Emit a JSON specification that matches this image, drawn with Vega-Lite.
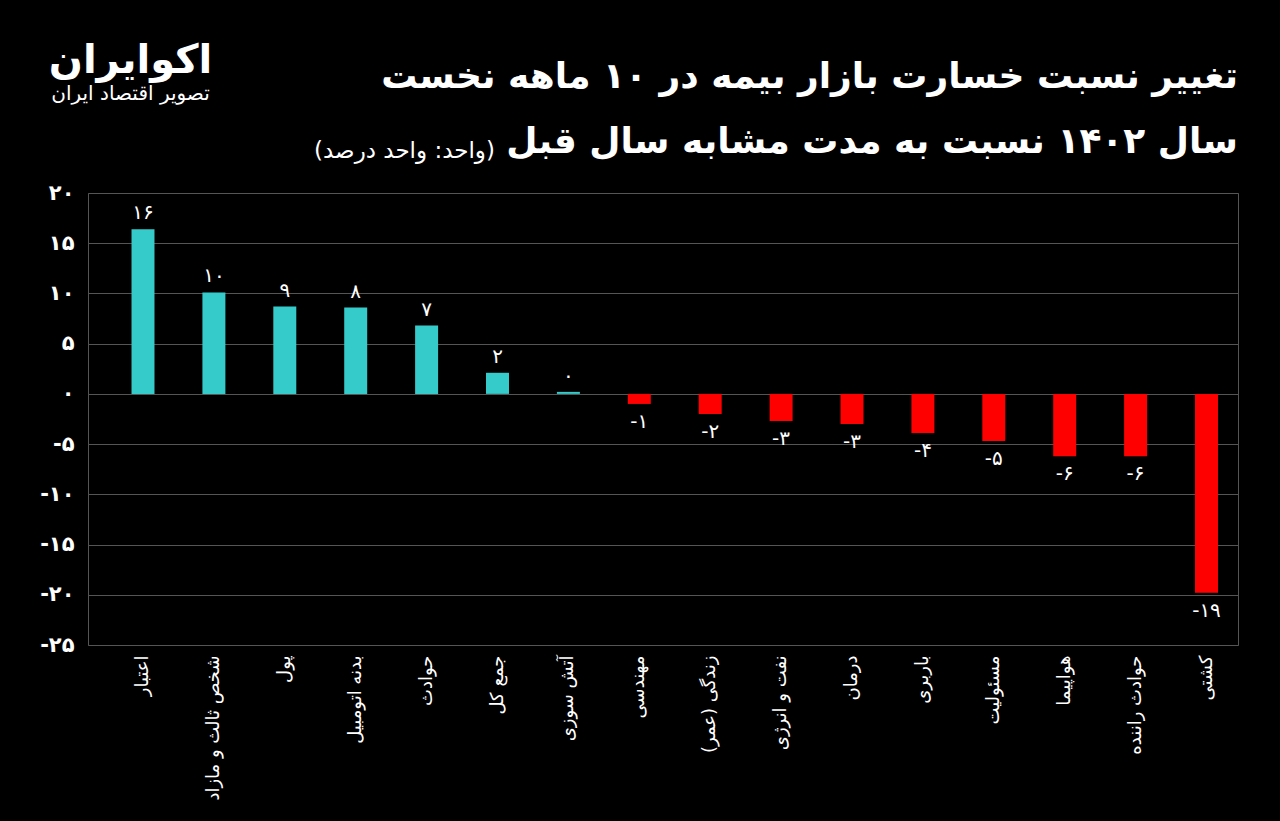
{
  "$schema": "https://vega.github.io/schema/vega-lite/v6.json",
  "width": 1150,
  "height": 452,
  "autosize": {"type": "none"},
  "padding": {"left": 88, "top": 193, "right": 42, "bottom": 176},
  "background": "#000000",
  "title": {
    "text": ["تغییر نسبت خسارت بازار بیمه در ۱۰ ماهه نخست", "سال ۱۴۰۲ نسبت به مدت مشابه سال قبل"],
    "anchor": "end",
    "font": "DejaVu Sans",
    "fontSize": 36,
    "fontWeight": "bold",
    "color": "#ffffff",
    "lineHeight": 65,
    "offset": -121
  },
  "config": {
    "view": {"stroke": "#555555", "strokeWidth": 1},
    "text": {"font": "DejaVu Sans"}
  },
  "data": {
    "values": [
      {"cat": "اعتبار", "value": 16.4, "lbl": "۱۶"},
      {"cat": "شخص ثالث و مازاد", "value": 10.1, "lbl": "۱۰"},
      {"cat": "پول", "value": 8.7, "lbl": "۹"},
      {"cat": "بدنه اتومبیل", "value": 8.6, "lbl": "۸"},
      {"cat": "حوادث", "value": 6.8, "lbl": "۷"},
      {"cat": "جمع کل", "value": 2.1, "lbl": "۲"},
      {"cat": "آتش سوزی", "value": 0.2, "lbl": "۰"},
      {"cat": "مهندسی", "value": -1.0, "lbl": "-۱"},
      {"cat": "زندگی (عمر)", "value": -2.0, "lbl": "-۲"},
      {"cat": "نفت و انرژی", "value": -2.7, "lbl": "-۳"},
      {"cat": "درمان", "value": -3.0, "lbl": "-۳"},
      {"cat": "باربری", "value": -3.9, "lbl": "-۴"},
      {"cat": "مسئولیت", "value": -4.7, "lbl": "-۵"},
      {"cat": "هواپیما", "value": -6.2, "lbl": "-۶"},
      {"cat": "حوادث راننده", "value": -6.2, "lbl": "-۶"},
      {"cat": "کشتی", "value": -19.8, "lbl": "-۱۹"}
    ]
  },
  "encoding": {
    "y": {
      "field": "value",
      "type": "quantitative",
      "scale": {"domain": [-25, 20], "nice": false},
      "axis": {
        "title": "(واحد: واحد درصد)",
        "titleAngle": 0,
        "titleX": 316,
        "titleY": -43,
        "titleAlign": "center",
        "titleBaseline": "middle",
        "titleFont": "DejaVu Sans",
        "titleFontSize": 23,
        "titleFontWeight": "normal",
        "titleColor": "#ffffff",
        "values": [20, 15, 10, 5, 0, -5, -10, -15, -20, -25],
        "labelExpr": "replace(replace(replace(replace(replace(replace(replace(replace(replace(replace(toString(datum.value),regexp('0','g'),'۰'),regexp('1','g'),'۱'),regexp('2','g'),'۲'),regexp('3','g'),'۳'),regexp('4','g'),'۴'),regexp('5','g'),'۵'),regexp('6','g'),'۶'),regexp('7','g'),'۷'),regexp('8','g'),'۸'),regexp('9','g'),'۹')",
        "labelFont": "DejaVu Sans",
        "labelFontSize": 21,
        "labelFontWeight": "bold",
        "labelColor": "#ffffff",
        "labelPadding": 14,
        "ticks": false,
        "domain": false,
        "grid": true,
        "gridColor": "#555555",
        "gridWidth": 1
      }
    }
  },
  "layer": [
    {
      "mark": {"type": "bar"},
      "encoding": {
        "x": {
          "field": "cat",
          "type": "nominal",
          "sort": null,
          "scale": {"paddingInner": 0.676, "paddingOuter": 0.448, "align": 0.685},
          "axis": {
            "title": "اکوایران",
            "titleX": 42,
            "titleY": -585,
            "titleAlign": "center",
            "titleBaseline": "middle",
            "titleFont": "DejaVu Sans",
            "titleFontSize": 40,
            "titleFontWeight": "bold",
            "titleColor": "#ffffff",
            "labelAngle": 270,
            "labelFont": "DejaVu Sans",
            "labelFontSize": 18,
            "labelColor": "#ffffff",
            "labelPadding": 10,
            "labelLimit": 400,
            "ticks": false,
            "domain": false,
            "grid": false
          }
        },
        "color": {
          "condition": {"test": "datum.value < 0", "value": "#ff0000"},
          "value": "#36cbcb"
        }
      }
    },
    {
      "transform": [{"filter": "datum.value >= 0"}],
      "mark": {"type": "text", "baseline": "bottom", "dy": -6, "fontSize": 20, "color": "#ffffff", "font": "DejaVu Sans"},
      "encoding": {
        "x": {
          "field": "cat",
          "type": "nominal",
          "sort": null,
          "axis": {
            "orient": "top",
            "labels": false,
            "ticks": false,
            "domain": false,
            "grid": false,
            "title": "تصویر اقتصاد ایران",
            "titleX": 42,
            "titleY": -100,
            "titleAlign": "center",
            "titleBaseline": "middle",
            "titleFont": "DejaVu Sans",
            "titleFontSize": 20,
            "titleFontWeight": "normal",
            "titleColor": "#ffffff"
          }
        },
        "text": {"field": "lbl"}
      }
    },
    {
      "transform": [{"filter": "datum.value < 0"}],
      "mark": {"type": "text", "baseline": "top", "dy": 8, "fontSize": 20, "color": "#ffffff", "font": "DejaVu Sans"},
      "encoding": {
        "x": {"field": "cat", "type": "nominal", "sort": null, "axis": null},
        "text": {"field": "lbl"}
      }
    }
  ],
  "resolve": {"axis": {"x": "independent"}}
}
